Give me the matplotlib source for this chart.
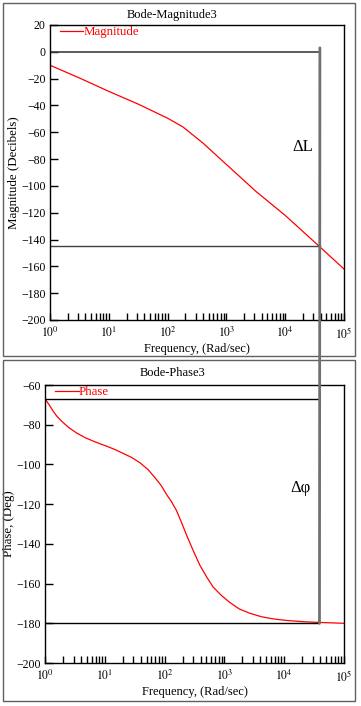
import numpy as np
import matplotlib.pyplot as plt
from matplotlib.patches import Rectangle, ConnectionPatch
from matplotlib.ticker import FixedLocator, LogLocator, NullFormatter

plt.rcParams['font.family'] = ['Liberation Serif', 'DejaVu Serif']
plt.rcParams['mathtext.fontset'] = 'stix'

# datos (log10 de la frecuencia)
mag_logw = [0.0, 0.5, 1.0, 1.5, 2.0, 2.26, 2.6, 3.0, 3.5, 4.0, 4.59, 5.0]
mag_db = [-10, -19.5, -29.5, -39, -49.5, -56, -68, -84, -104, -122, -145.5, -162]

phase_logw = [0.0, 0.07, 0.14, 0.2, 0.28, 0.4, 0.53, 0.67, 0.81, 0.92, 1.03,
              1.17, 1.31, 1.45, 1.59, 1.72, 1.84, 1.94, 2.03, 2.12, 2.2, 2.28,
              2.37, 2.48, 2.59, 2.7, 2.81, 2.95, 3.09, 3.25, 3.43, 3.62, 3.82,
              4.05, 4.32, 4.6, 5.0]
phase_deg = [-67, -70, -73.3, -75.8, -78.3, -81.5, -84.2, -86.5, -88.3, -89.6,
             -90.8, -92.5, -94.5, -96.5, -99.2, -102.5, -106.7, -110.5, -115,
             -119, -123.3, -129, -135.8, -143.5, -150.8, -156.5, -161.7, -166,
             -169.5, -172.8, -175, -176.7, -177.8, -178.6, -179.2, -179.6, -180]

crossover_logw = 4.59
mag_ref = -145
phase_top = -67
phase_ref = -180

xtick_vals = [1, 10, 100, 1000, 10000, 100000]
xtick_labels = ['$10^0$', '$10^1$', '$10^2$', '$10^3$', '$10^4$', '$10^5$']
mag_yticks = list(range(20, -201, -20))
phase_yticks = list(range(-60, -201, -20))

W, H = 361, 706


def rect(x0, y0, x1, y1):
    # caja en pixeles -> fraccion de figura
    return [x0 / W, 1 - y1 / H, (x1 - x0) / W, (y1 - y0) / H]


fig = plt.figure(figsize=(W / 100, H / 100), dpi=100)

# marcos de los paneles
for y0, y1 in [(3, 356), (360, 701)]:
    r = rect(3, y0, 355, y1)
    fig.add_artist(Rectangle((r[0], r[1]), r[2], r[3], transform=fig.transFigure,
                             fill=False, ec='#606060', lw=1))

ax1 = fig.add_axes(rect(50, 25, 344, 320))
ax2 = fig.add_axes(rect(45, 385, 344, 663))

wc = 10 ** crossover_logw


def style(ax, yticks, ylim):
    ax.set_xscale('log')
    ax.set_xlim(1, 1e5)
    ax.set_ylim(*ylim)
    ax.xaxis.set_major_locator(FixedLocator(xtick_vals))
    ax.set_xticklabels(xtick_labels)
    ax.xaxis.set_minor_locator(LogLocator(base=10, subs=range(2, 10), numticks=20))
    ax.xaxis.set_minor_formatter(NullFormatter())
    ax.set_yticks(yticks)
    ax.tick_params(which='both', direction='in', top=False, right=False,
                   labelsize=8.5, width=1, color='black')
    ax.tick_params(axis='x', which='both', length=5, pad=4)
    ax.tick_params(axis='y', length=6, pad=3)
    for s in ax.spines.values():
        s.set_linewidth(1)
    ax.set_xlabel('Frequency, (Rad/sec)', fontsize=9, labelpad=2)


def legend(ax, x0):
    ax.legend(loc='upper left', frameon=False, fontsize=9.3, handlelength=1.8,
              handletextpad=0.0, borderaxespad=0.0, borderpad=0.1,
              labelcolor='red', bbox_to_anchor=(x0, 1.0))


# magnitud
ax1.plot(10 ** np.array(mag_logw), mag_db, color='red', lw=0.9, label='Magnitude')
ax1.plot([1, wc], [0, 0], color='#404040', lw=1.2)
ax1.plot([1, wc], [mag_ref, mag_ref], color='#404040', lw=1)
style(ax1, mag_yticks, (-200, 20))
ax1.set_ylabel('Magnitude (Decibels)', fontsize=9.3, labelpad=1)
ax1.text(10 ** 4.3, -71, 'ΔL', fontsize=12, ha='center', va='center')
legend(ax1, 0.03)
fig.text(172 / W, 1 - 15 / H, 'Bode-Magnitude3', ha='center', va='center', fontsize=9)

# fase
ax2.plot(10 ** np.array(phase_logw), phase_deg, color='red', lw=0.9, label='Phase')
ax2.plot([1, wc], [phase_top, phase_top], color='black', lw=1)
ax2.plot([1, wc], [phase_ref, phase_ref], color='black', lw=1)
style(ax2, phase_yticks, (-200, -60))
ax2.set_ylabel('Phase, (Deg)', fontsize=9.3, labelpad=1)
ax2.text(10 ** 4.28, -112, 'Δφ', fontsize=12, ha='center', va='center')
legend(ax2, 0.03)
fig.text(173 / W, 1 - 373 / H, 'Bode-Phase3', ha='center', va='center', fontsize=9)

# linea vertical que cruza ambos paneles
con = ConnectionPatch(xyA=(wc, 3), coordsA=ax1.transData,
                      xyB=(wc, phase_ref), coordsB=ax2.transData,
                      color='#707070', lw=2)
fig.add_artist(con)

fig.savefig('out.png', dpi=100)
